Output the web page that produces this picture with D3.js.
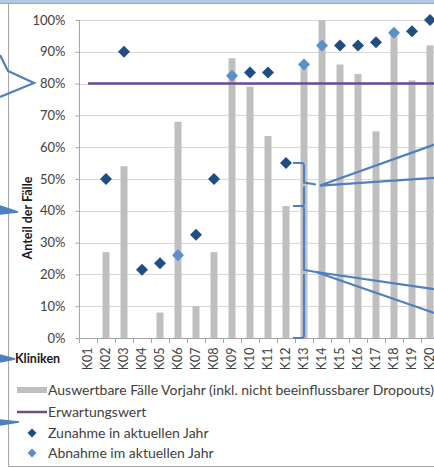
<!DOCTYPE html>
<html><head><meta charset="utf-8">
<script src="https://cdn.jsdelivr.net/npm/d3@7"></script>
<style>
html,body{margin:0;padding:0;background:#fff;overflow:hidden}
svg{display:block}
text{font-family:Lato,"Open Sans",sans-serif}
</style></head>
<body><svg id="c" width="434" height="468"></svg>
<script>
const categories = ["K01","K02","K03","K04","K05","K06","K07","K08","K09","K10","K11","K12","K13","K14","K15","K16","K17","K18","K19","K20"];
const vorjahr   = [0, 0.27, 0.54, 0, 0.08, 0.68, 0.10, 0.27, 0.88, 0.79, 0.635, 0.415, 0.85, 1.00, 0.86, 0.83, 0.65, 0.96, 0.81, 0.92];
const zunahme   = [null, 0.50, 0.90, 0.215, 0.235, null, 0.325, 0.50, null, 0.835, 0.835, 0.55, null, null, 0.92, 0.92, 0.93, null, 0.965, 1.00];
const abnahme   = [null, null, null, null, null, 0.26, null, null, 0.825, null, null, null, 0.86, 0.92, null, null, null, 0.96, null, null];
const erwartungswert = 0.80;
const yTicks = [0,0.1,0.2,0.3,0.4,0.5,0.6,0.7,0.8,0.9,1.0];
const legendLabels = ["Auswertbare Fälle Vorjahr (inkl. nicht beeinflussbarer Dropouts)","Erwartungswert","Zunahme in aktuellen Jahr","Abnahme im aktuellen Jahr"];
const bracketCategory = "K12";

const svg = d3.select("#c");
const C = {bar:"#bfbfbf", line:"#6b4d8e", dark:"#1f4e85", light:"#5b8fcb", grid:"#d9d9d9", axis:"#a6a6a6", text:"#404040", callout:"#4f7fbf"};
const plotL = 79, plotT = 20, plotB = 338;
const x = d3.scaleBand().domain(categories).range([plotL, plotL + 18*categories.length]).paddingInner(0).paddingOuter(0);
const y = d3.scaleLinear().domain([0,1]).range([plotB, plotT]);
const barW = 7;

// frame
svg.append("rect").attr("x",0).attr("y",0).attr("width",434).attr("height",3).attr("fill","#b4c8e4");
svg.append("line").attr("x1",0).attr("x2",434).attr("y1",3.5).attr("y2",3.5).attr("stroke","#8ca8d2").attr("stroke-width",1);
svg.append("path").attr("d","M8.5,4 V466.5 H434").attr("fill","none").attr("stroke","#a6a6a6").attr("stroke-width",1);

// grid
svg.append("g").selectAll("line").data(yTicks.slice(1)).join("line")
  .attr("x1",plotL).attr("x2",434).attr("y1",d=>Math.round(y(d))+0.5).attr("y2",d=>Math.round(y(d))+0.5)
  .attr("stroke",C.grid).attr("stroke-width",1);

// y axis
const ya = svg.append("g").attr("transform",`translate(${plotL+0.5},0)`)
  .call(d3.axisLeft(y).tickValues(yTicks).tickFormat(d3.format(".0%")).tickSize(4).tickPadding(10));
ya.select(".domain").attr("stroke",C.axis).attr("d",`M0,${plotB}V${plotT}`);
ya.selectAll(".tick line").attr("stroke",C.axis);
ya.selectAll(".tick text").attr("fill",C.text).style("font-size","13px").style("font-family","Lato");

// x axis
const xa = svg.append("g").attr("transform",`translate(0,${plotB+0.5})`)
  .call(d3.axisBottom(x).tickSize(0).tickPadding(0));
xa.select(".domain").attr("stroke",C.axis).attr("d",`M${plotL},0H440`);
xa.selectAll(".tick text").attr("fill",C.text).style("font-size","12.5px")
  .attr("transform","rotate(-90)").attr("text-anchor","end").attr("x",-9).attr("y",0).attr("dy","0.35em");
svg.append("g").selectAll("line").data(categories).join("line")
  .attr("x1",d=>Math.round(x(d))+0.5).attr("x2",d=>Math.round(x(d))+0.5).attr("y1",plotB).attr("y2",plotB+5)
  .attr("stroke",C.axis);

// bars
svg.append("g").selectAll("rect").data(categories.map((c,i)=>({c,v:vorjahr[i]})).filter(d=>d.v>0)).join("rect")
  .attr("x",d=>x(d.c)+x.bandwidth()/2-barW/2).attr("width",barW)
  .attr("y",d=>y(d.v)).attr("height",d=>plotB-y(d.v)).attr("fill",C.bar);

// expectation line
svg.append("line").attr("x1",x(categories[0])+x.bandwidth()/2).attr("x2",440)
  .attr("y1",y(erwartungswert)).attr("y2",y(erwartungswert)).attr("stroke",C.line).attr("stroke-width",2.5);

// bracket + callouts
const bx = x(bracketCategory)+x.bandwidth()/2;
const i12 = categories.indexOf(bracketCategory);
const yTop = y(zunahme[i12]), yMid = y(vorjahr[i12]), yBot = y(0);
const vx = bx+18, tipL = bx+7, tipR = bx+32;
const brace = (a,b)=>`M${tipL},${a} H${vx-2} Q${vx},${a} ${vx},${a+3} V${(a+b)/2-2} L${tipR-2},${(a+b)/2} M${vx},${(a+b)/2+2} V${b-3} Q${vx},${b} ${vx-2},${b} H${tipL}`;
svg.append("path").attr("d",brace(yTop,yMid)).attr("fill","none").attr("stroke",C.callout).attr("stroke-width",2);
svg.append("path").attr("d",brace(yMid,yBot)).attr("fill","none").attr("stroke",C.callout).attr("stroke-width",2);
const m1 = (yTop+yMid)/2, m2 = (yMid+yBot)/2;
svg.append("path").attr("d",`M440,${m1-42} L${tipR+2},${m1+1} L440,${m1-7}`).attr("fill","none").attr("stroke",C.callout).attr("stroke-width",2.2);
svg.append("path").attr("d",`M440,${m2+18} L${tipR-2},${m2} L440,${m2+43}`).attr("fill","none").attr("stroke",C.callout).attr("stroke-width",2.2);

// diamonds
const dia = "M0,-6L6,0L0,6L-6,0Z";
svg.append("g").selectAll("path").data(categories.map((c,i)=>({c,v:zunahme[i]})).filter(d=>d.v!=null)).join("path")
  .attr("d",dia).attr("fill",C.dark).attr("transform",d=>`translate(${x(d.c)+x.bandwidth()/2},${y(d.v)})`);
svg.append("g").selectAll("path").data(categories.map((c,i)=>({c,v:abnahme[i]})).filter(d=>d.v!=null)).join("path")
  .attr("d",dia).attr("fill",C.light).attr("transform",d=>`translate(${x(d.c)+x.bandwidth()/2},${y(d.v)})`);

// axis titles
svg.append("text").attr("transform","translate(32,218) rotate(-90)").attr("text-anchor","middle")
  .style("font-size","12.5px").style("font-weight","bold").attr("fill","#1a1a1a").text("Anteil der Fälle");
svg.append("text").attr("x",15).attr("y",363).style("font-size","12.5px").style("font-weight","bold").attr("fill","#1a1a1a").text("Kliniken");

// left callouts
svg.append("path").attr("d","M0,55 L8,71 L34,83 L0,97").attr("fill","none").attr("stroke",C.callout).attr("stroke-width",2.2);
svg.append("path").attr("d","M0,206 L18,212 L0,214 Z").attr("fill",C.callout).attr("stroke",C.callout).attr("stroke-width",1.5);
svg.append("path").attr("d","M0,355 L15,359 L0,362 Z").attr("fill",C.callout).attr("stroke",C.callout).attr("stroke-width",1.5);
svg.append("path").attr("d","M0,420 L19,422 L0,425 Z").attr("fill",C.callout).attr("stroke",C.callout).attr("stroke-width",1.5);

// legend
const lg = svg.append("g");
const ly = [390, 412, 433, 453];
lg.append("rect").attr("x",17).attr("y",ly[0]-3).attr("width",30).attr("height",6).attr("fill",C.bar);
lg.append("line").attr("x1",17).attr("x2",47).attr("y1",ly[1]).attr("y2",ly[1]).attr("stroke",C.line).attr("stroke-width",2.5);
lg.append("path").attr("d","M0,-4.5L4.5,0L0,4.5L-4.5,0Z").attr("fill",C.dark).attr("transform",`translate(32,${ly[2]})`);
lg.append("path").attr("d","M0,-4.5L4.5,0L0,4.5L-4.5,0Z").attr("fill",C.light).attr("transform",`translate(32,${ly[3]})`);
lg.selectAll("text").data(legendLabels).join("text")
  .attr("x",48).attr("y",(d,i)=>ly[i]).attr("dy","0.35em")
  .style("font-size","14px").attr("fill",C.text).text(d=>d);
</script></body></html>
